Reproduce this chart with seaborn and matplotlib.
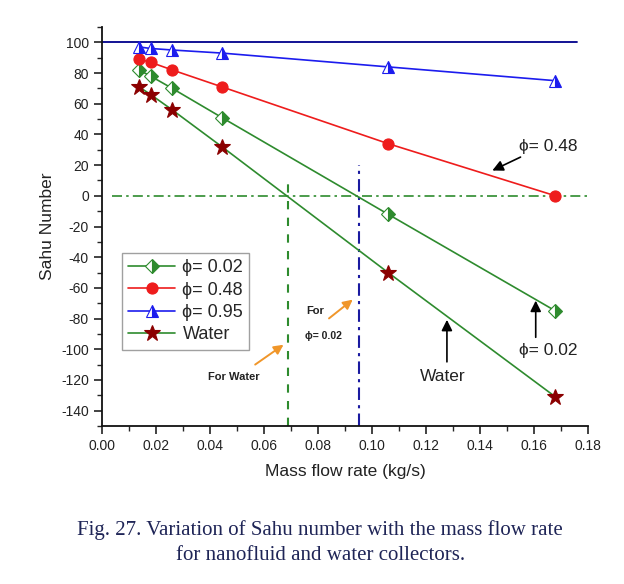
import matplotlib
matplotlib.use("Agg")
import matplotlib.pyplot as plt
from matplotlib.ticker import MultipleLocator
import seaborn as sns
import numpy as np
import pandas as pd

# ---- data ----
mass_flow = [0.0137, 0.018, 0.026, 0.0444, 0.106, 0.168]
phi_002 = [82, 78, 70, 51, -12, -75]
phi_048 = [89, 87, 82, 71, 34, 0]
phi_095 = [97, 96, 95, 93, 84, 75]
water = [71, 66, 56, 32, -50, -131]
labels = ["ϕ= 0.02", "ϕ= 0.48", "ϕ= 0.95", "Water"]

upper_limit = 100
upper_limit_end = 0.176
zero_level = 0
zero_start = 0.0037
water_cross = 0.069
water_cross_top = 10
phi002_cross = 0.0952
phi002_cross_top = 20

xticks = [0.00, 0.02, 0.04, 0.06, 0.08, 0.10, 0.12, 0.14, 0.16, 0.18]
yticks = list(range(-140, 101, 20))

sns.set_style("ticks")
plt.rcParams["font.family"] = ["Liberation Sans", "DejaVu Sans"]
plt.rcParams["axes.unicode_minus"] = False

fig = plt.figure(figsize=(6.24, 5.84), dpi=100)
ax = fig.add_axes([0.1635, 0.2705, 0.7785, 0.6833])

green = "#2e8b2e"
red = "#ee1c1c"
blue = "#1c1cee"
star = "#8b0000"

df = pd.DataFrame({"x": mass_flow, "p002": phi_002, "p048": phi_048,
                   "p095": phi_095, "water": water})

sns.lineplot(data=df, x="x", y="p002", ax=ax, color=green, lw=1.2,
             marker="D", markersize=7, fillstyle="right",
             markerfacecolor=green, markerfacecoloralt="white",
             markeredgecolor=green, markeredgewidth=0.8, label=labels[0])
sns.lineplot(data=df, x="x", y="p048", ax=ax, color=red, lw=1.2,
             marker="o", markersize=8, markerfacecolor=red,
             markeredgecolor=red, markeredgewidth=0.8, label=labels[1])
sns.lineplot(data=df, x="x", y="p095", ax=ax, color=blue, lw=1.2,
             marker="^", markersize=8, fillstyle="right",
             markerfacecolor=blue, markerfacecoloralt="white",
             markeredgecolor=blue, markeredgewidth=0.8, label=labels[2])
sns.lineplot(data=df, x="x", y="water", ax=ax, color=green, lw=1.2,
             marker="*", markersize=12, markerfacecolor=star,
             markeredgecolor=star, markeredgewidth=0.8, label=labels[3])

# reference lines
ax.plot([0, upper_limit_end], [upper_limit, upper_limit], color="#00008b", lw=1.3, zorder=1)
ax.plot([zero_start, 0.18], [zero_level, zero_level], color=green, lw=1.2,
        dashes=[6, 2.5, 1.5, 2.5], zorder=1)
ax.plot([water_cross, water_cross], [-150, water_cross_top], color=green, lw=1.5,
        dashes=[4, 4], zorder=1)
ax.plot([phi002_cross, phi002_cross], [-150, phi002_cross_top], color="#1a1aa0", lw=1.5,
        dashes=[6, 2.5, 1.5, 2.5], zorder=1)

ax.set_xlim(0, 0.18)
ax.set_ylim(-150, 110)
ax.set_xticks(xticks)
ax.set_xticklabels([f"{t:.2f}" for t in xticks])
ax.set_yticks(yticks)
ax.xaxis.set_minor_locator(MultipleLocator(0.01))
ax.yaxis.set_minor_locator(MultipleLocator(10))
ax.tick_params(which="major", direction="out", length=6, width=1.2, labelsize=10, colors="#222222")
ax.tick_params(which="minor", direction="out", length=3.5, width=1.0)
for s in ["left", "bottom"]:
    ax.spines[s].set_linewidth(1.3)
    ax.spines[s].set_color("#111111")
sns.despine(ax=ax)

ax.set_xlabel("Mass flow rate (kg/s)", fontsize=12.5, labelpad=8, color="#222222")
ax.set_ylabel("Sahu Number", fontsize=12.5, labelpad=4, color="#222222")

leg = ax.legend(loc="upper left", bbox_to_anchor=(0.041, 0.434), fontsize=13,
                frameon=True, fancybox=False, edgecolor="#888888", handlelength=2.6,
                handletextpad=0.4, borderpad=0.35, labelspacing=0.3, borderaxespad=0)
leg.get_frame().set_linewidth(1.0)

# annotations
arrow_k = dict(arrowstyle="-|>", color="black", lw=1.2, mutation_scale=16)
ax.annotate("", xy=(0.1437, 15.7), xytext=(0.156, 26), arrowprops=arrow_k)
ax.text(0.1545, 32, "ϕ= 0.48", fontsize=12.5, va="center", ha="left", color="#222222")
ax.annotate("", xy=(0.1607, -66.5), xytext=(0.1607, -94), arrowprops=arrow_k)
ax.text(0.1545, -100.5, "ϕ= 0.02", fontsize=12.5, va="center", ha="left", color="#222222")
ax.annotate("", xy=(0.1278, -79), xytext=(0.1278, -110), arrowprops=arrow_k)
ax.text(0.1263, -118, "Water", fontsize=12.5, va="center", ha="center", color="#222222")

arrow_o = dict(arrowstyle="-|>", color="#f0962a", lw=1.4, mutation_scale=14)
ax.annotate("", xy=(0.0681, -96), xytext=(0.0559, -111), arrowprops=arrow_o)
ax.text(0.049, -118, "For Water", fontsize=8, fontweight="bold", ha="center", va="center", color="#222222")
ax.annotate("", xy=(0.0937, -66.5), xytext=(0.0833, -81), arrowprops=arrow_o)
ax.text(0.0755, -75, "For", fontsize=8, fontweight="bold", ha="left", va="center", color="#222222")
ax.text(0.0752, -91.5, "ϕ= 0.02", fontsize=7.5, fontweight="bold", ha="left", va="center", color="#222222")

fig.text(0.513, 0.071, "Fig. 27. Variation of Sahu number with the mass flow rate\nfor nanofluid and water collectors.",
         ha="center", va="center", fontsize=15, family="Liberation Serif", color="#1f2557",
         linespacing=1.42)

fig.savefig("out.png", dpi=100)
